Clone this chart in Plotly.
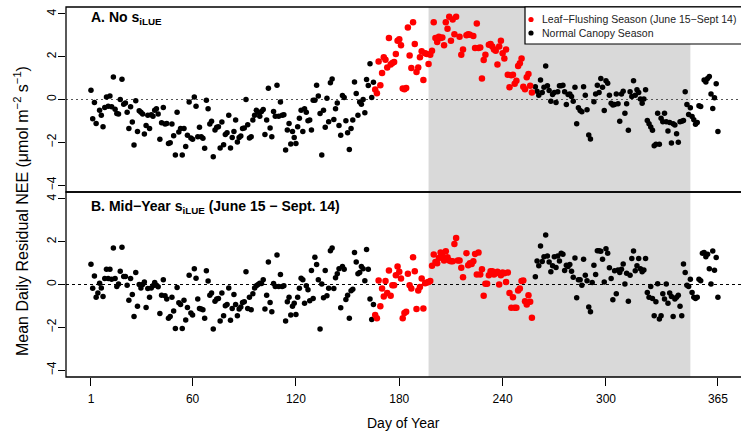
import plotly.graph_objects as go

# ---------------- data ----------------
# Panel A (No s_iLUE): normal canopy season, days 1-165
a_norm1_days = list(range(1, 5)) + list(range(6, 166))
a_norm1_vals = [0.43, -0.90, -0.14, -1.12, -0.50, -0.74, -1.27, -0.37, 0.12, -0.31,
                0.16, -0.34, 1.05, -0.45, -0.65, -0.68, 0.00, 0.95, -0.22, -0.16,
                -0.59, -1.36, -0.34, -1.05, -2.12, -0.06, -1.50, -0.53, -0.59, -0.68,
                -1.61, -1.21, -0.74, -1.36, -0.71, -0.78, -0.50, -0.43, -0.68, -1.86,
                -1.09, -0.37, -1.15, -1.12, -2.05, -2.02, -1.15, -1.69, -2.59, -0.59,
                -1.52, -1.36, -2.59, -1.36, -2.20, -1.67, -0.12, -1.80, -1.86, 0.12,
                -0.31, -1.74, -1.30, -1.74, -1.81, -2.28, -0.03, -0.43, -1.15, -1.02,
                -2.67, -1.43, -1.30, -1.27, -2.26, -1.05, -2.11, -1.64, -1.55, -0.74,
                -2.26, -1.77, -1.49, -0.96, -1.98, -1.77, -1.71, -1.36, -1.33, 0.00,
                -1.18, -1.80, -1.74, -0.96, -0.73, -0.50, -0.59, -0.78, -0.56, -0.47,
                -1.64, -0.96, 0.53, -1.33, -1.74, -0.56, -0.78, 0.67, -0.78, -0.12,
                -0.73, -0.71, -2.36, -1.43, -1.12, -2.08, -1.49, -1.77, -2.05, -1.27,
                -0.88, -0.50, -1.50, -0.43, -0.59, -0.99, -0.96, -1.43, -0.03, -0.03,
                0.67, 0.16, -0.65, -2.59, -0.50, -1.30, 0.06, -1.04, 0.78, 0.96,
                -0.93, -0.43, -0.16, -1.21, -1.67, 0.19, 0.09, -0.99, -1.55, -2.33,
                -1.35, -0.96, 0.82, 0.28, -0.74, -0.12, -0.22, 0.00, -0.62, 0.93,
                0.65, 1.67, 0.09, 0.81]

# Panel A: leaf-flushing season, days 166-257
a_leaf_days = list(range(166, 214)) + [215, 216, 217] + list(range(219, 222)) + \
              list(range(223, 231)) + list(range(232, 258))
a_leaf_vals = [0.47, 0.29, 1.78, 0.67, 1.24, 1.97, 1.86, 1.50, 2.87, 1.63,
               1.71, 1.75, 2.12, 2.74, 2.81, 2.53, 0.51, 0.48, 0.54, 3.36,
               2.06, 1.47, 3.61, 2.59, 1.29, 1.50, 1.97, 2.25, 0.91, 2.16,
               2.12, 1.66, 2.09, 2.28, 3.61, 2.87, 2.68, 2.93, 2.87, 2.90,
               2.53, 3.61, 3.30, 3.86, 2.74, 3.74, 3.05, 3.86,
               2.93, 2.09, 2.34,
               3.00, 3.05, 3.02,
               2.96, 2.40, 3.55, 2.40, 2.43, 0.98, 1.84, 2.09,
               2.56, 2.59, 2.47, 2.34, 2.28, 1.63, 2.47, 2.74, 2.16, 1.91,
               2.34, 1.16, 0.57, 1.13, 1.16, 0.73, 0.88, 1.57, 1.69, 1.91,
               0.60, 0.48, 1.04, 1.19, 0.64, 0.33]

# Panel A: normal canopy season, days 258-365
a_norm2_days = list(range(259, 292)) + list(range(293, 356)) + list(range(357, 366))
a_norm2_vals = [0.60, 0.39, 0.20, 0.91, 0.33, 0.57, 1.57, 0.64, 0.42, -0.08,
                0.23, 0.33, -0.14, 0.36, 0.64, 0.64, 0.67, 0.36, -0.23, 0.23,
                0.26, 0.14, -0.08, 0.57, -1.13, -0.39, -0.51, -0.57, 0.60, 0.20,
                -0.48, -1.66, -1.84,
                -0.11, 0.26, 0.67, 0.33, 0.98, 0.57, -0.51, 0.88, 0.76, 0.20,
                -0.17, -0.26, -0.23, 0.26, -0.20, -1.01, 0.26, 0.39, -0.64, -0.20,
                -1.44, 0.36, 0.14, 0.88, 0.20, 0.45, 0.33, 0.02, -0.17, 0.02,
                0.45, -0.98, -1.13, -1.29, -1.44, -2.16, -2.09, -0.64, -2.09, -0.88,
                -1.04, -0.64, -1.04, -1.47, -1.07, -2.03, -1.13, -1.19, -1.60, -2.00,
                -1.04, -1.01, -0.98, 0.36, -0.23, -0.70, -0.39, -0.79, -0.95, -1.16,
                -1.07, -0.29, -0.33,
                0.91, 0.82, 0.98, 1.07, 0.26, -0.42, 0.08, 0.73, -1.50]

# Panel B (Mid-Year s_iLUE): normal canopy season, days 1-165
b_norm1_days = list(range(1, 166))
b_norm1_vals = [0.95, -0.17, 0.40, -0.60, -0.40, 0.06, -0.16, -0.56, 0.28, 0.71,
                0.28, 0.71, 0.25, 1.71, 0.28, -0.09, 0.02, 0.62, 1.74, 0.37,
                0.37, -0.03, -0.73, 0.28, -0.47, -1.50, 0.56, -1.01, 0.00, -0.16,
                0.00, 0.12, -1.07, -0.19, -0.60, -0.16, -0.06, 0.09, -0.03, -0.11,
                -1.36, -0.50, 0.22, -0.53, -0.68, -1.58, -1.50, -0.60, -1.24, -2.05,
                -0.14, -0.85, -0.93, -2.05, -0.74, -1.66, -1.07, 0.43, -1.33, -1.43,
                0.74, 0.29, -0.68, -1.12, -1.15, -1.18, -1.58, 0.64, 0.16, -0.50,
                -0.40, -2.08, -0.78, -0.68, -0.65, -1.71, -0.40, -1.46, -0.99, -0.93,
                -0.16, -1.67, -1.12, -0.47, -0.93, -1.46, -1.15, -1.05, -0.84, -0.81,
                0.59, -1.12, -0.59, -1.18, -0.43, -0.16, -0.06, 0.00, 0.06, 0.05,
                0.22, -1.15, -0.50, 1.05, -0.84, -1.27, 0.05, -0.09, 1.38, -0.09,
                0.47, -0.09, -0.06, -1.71, -0.81, -0.59, -1.43, -1.02, -0.87, -1.40,
                -0.60, -0.17, 0.29, 0.22, -0.88, -0.06, -0.25, -0.76, 0.65, -0.65,
                1.27, 0.93, 0.22, -2.08, 0.02, -0.62, 0.65, -0.53, -0.17, 1.58,
                1.71, -0.19, 0.31, 0.50, 0.74, -1.09, 0.84, 0.71, -0.70, -0.50,
                -1.58, -0.29, -0.22, 1.49, 1.05, 0.50, 0.56, 0.84, 0.74, 0.17,
                1.63, 0.71, -0.68, -1.64, -0.93]

# Panel B: leaf-flushing season, days 166-257
b_leaf_days = list(range(166, 218)) + list(range(219, 258))
b_leaf_vals = [-1.43, -1.58, 0.19, -1.02, -0.19, -0.56, 0.16, -0.40, 0.65, -0.53,
               -0.03, -0.03, 0.43, 0.84, 0.59, 0.28, -1.58, -1.33, -1.27, 0.50,
               -0.03, -0.19, 1.27, 0.62, -1.15, -0.28, -0.12, 0.28, -1.12, 0.06,
               0.09, 0.12, 0.16, 0.87, 1.40, 1.05, 0.99, 1.24, 1.49, 1.36,
               1.12, 1.55, 1.27, 1.12, 1.09, 1.09, 1.89, 2.17, 1.12, 1.12,
               0.78, 0.34,
               1.46, 0.90, 0.99, 0.96, 1.09, 1.43, 0.47, 1.49, 0.47, 0.71,
               -0.53, 0.03, 0.03, 0.43, 0.62, 0.62, 0.47, 0.53, 0.59, 0.00,
               0.43, 0.56, 0.53, 0.12, 0.56, -0.40, -1.09, -0.59, -1.09, -1.09,
               -0.28, -0.19, 0.16, 0.19, -0.78, -0.93, -0.50, -0.81, -1.55]

# Panel B: normal canopy season, days 258-365
b_norm2_days = list(range(259, 366))
b_norm2_vals = [0.36, 1.10, 0.87, 1.80, 1.07, 1.30, 2.31, 1.33, 1.05, 0.59,
                0.87, 1.30, 0.79, 1.33, 1.10, 1.46, 1.41, 0.65, 0.90, 0.84,
                0.93, 0.62, 0.34, 1.24, -0.62, 0.22, 0.22, -0.03, 1.18, 0.43,
                0.17, -1.05, -1.27, 0.09, 0.90, 0.47, 1.58, 1.58, 1.55, 1.18,
                0.12, 1.67, 1.46, 0.78, 0.28, -0.71, 0.64, -0.43, 0.68, 0.56,
                0.71, 0.96, 0.02, 0.53, -0.78, 0.43, 1.21, 1.57, 0.64, 0.87,
                1.21, 0.74, 0.59, 0.68, 1.21, -0.37, -0.60, -0.09, -0.65, -1.46,
                -0.81, 0.03, -1.61, -1.46, -0.43, -0.68, 0.02, -0.87, -0.40, -0.56,
                -1.49, -0.68, -0.60, -0.50, -1.02, -1.46, 0.96, 0.56, -0.03, -0.09,
                0.25, -0.37, -0.59, -0.65, -0.60, 0.25, 0.17, 1.46, 1.49, 1.30,
                1.41, 0.74, 0.02, 1.57, 0.67, 1.26, -0.60]

x_ticks = [1, 60, 120, 180, 240, 300, 365]
y_ticks = [-4, -2, 0, 2, 4]
shade_start, shade_end = 197, 349
legend_labels = ["Leaf\u2212Flushing Season (June 15\u2212Sept 14)", "Normal Canopy Season"]

# ---------------- figure ----------------
FONT = "Liberation Sans, Arial, Helvetica, sans-serif"
RED = "#ff0000"
BLACK = "#000000"
legend_colors = [RED, BLACK]

fig = go.Figure()

def add(days, vals, color, size, yaxis, name):
    fig.add_trace(go.Scatter(
        x=days, y=vals, mode="markers", xaxis="x", yaxis=yaxis,
        marker=dict(color=color, size=size, line=dict(width=0)),
        name=name, showlegend=False))

add(a_norm1_days, a_norm1_vals, BLACK, 5.5, "y", legend_labels[1])
add(a_norm2_days, a_norm2_vals, BLACK, 5.5, "y", legend_labels[1])
add(a_leaf_days, a_leaf_vals, RED, 6.5, "y", legend_labels[0])
add(b_norm1_days, b_norm1_vals, BLACK, 5.5, "y2", legend_labels[1])
add(b_norm2_days, b_norm2_vals, BLACK, 5.5, "y2", legend_labels[1])
add(b_leaf_days, b_leaf_vals, RED, 6.5, "y2", legend_labels[0])

yax = dict(range=[-4.32, 4.32], tickvals=y_ticks, ticks="outside", ticklen=7,
           tickwidth=1, tickcolor="black", tickangle=-90, showgrid=False,
           zeroline=False, showline=False, ticklabelstandoff=-3,
           tickfont=dict(family=FONT, size=12, color="black"))

fig.update_layout(
    width=741, height=434,
    margin=dict(l=66, r=0, t=7, b=57),
    paper_bgcolor="white", plot_bgcolor="white",
    xaxis=dict(range=[-13.5, 378.4], tickvals=x_ticks, ticks="outside", ticklen=8,
               tickwidth=1, tickcolor="black", showgrid=False, zeroline=False,
               showline=False, anchor="y2", ticklabelstandoff=3,
               tickfont=dict(family=FONT, size=12, color="black")),
    yaxis=dict(domain=[0.5, 1], anchor="x", **yax),
    yaxis2=dict(domain=[0, 0.5], anchor="x", **yax),
    showlegend=False,
)

# plot area in pixels: x 66..741, y 7..377
def px_x(p):
    return (p - 66) / 675.0

def px_y(p):
    return (377 - p) / 370.0

shapes = [
    dict(type="rect", xref="x", yref="paper", x0=shade_start, x1=shade_end, y0=0, y1=1,
         fillcolor="#d9d9d9", line=dict(width=0), layer="below"),
    dict(type="line", xref="paper", yref="y", x0=0, x1=1, y0=0, y1=0,
         line=dict(color="#555555", width=1.2, dash="2px,3px"), layer="below"),
    dict(type="line", xref="paper", yref="y2", x0=0, x1=1, y0=0, y1=0,
         line=dict(color="#000000", width=1, dash="3px,3px"), layer="below"),
    dict(type="rect", xref="paper", yref="paper", x0=0, x1=1.01, y0=0.5, y1=1,
         line=dict(color="black", width=1.3), fillcolor="rgba(0,0,0,0)", layer="above"),
    dict(type="rect", xref="paper", yref="paper", x0=0, x1=1.01, y0=0, y1=0.5,
         line=dict(color="black", width=1.3), fillcolor="rgba(0,0,0,0)", layer="above"),
    # legend box
    dict(type="rect", xref="paper", yref="paper", x0=px_x(525), x1=1.01,
         y0=px_y(44), y1=1, fillcolor="white", line=dict(color="black", width=1.2),
         layer="above"),
]
annotations = []
for i, (lab, col) in enumerate(zip(legend_labels, legend_colors)):
    yc = px_y(19.5 + i * 13.5)
    shapes.append(dict(type="circle", xref="paper", yref="paper",
                       xsizemode="pixel", ysizemode="pixel",
                       xanchor=px_x(531), yanchor=yc, x0=-2.6, x1=2.6, y0=-2.6, y1=2.6,
                       fillcolor=col, line=dict(width=0), layer="above"))
    annotations.append(dict(text=lab, xref="paper", yref="paper", x=px_x(540), y=yc,
                            xanchor="left", yanchor="middle", showarrow=False,
                            font=dict(family=FONT, size=10.5, color="#222")))
fig.update_layout(shapes=shapes)

annotations += [
    dict(text="<b>A. No s<sub>iLUE</sub></b>", xref="paper", yref="paper",
         x=px_x(89), y=px_y(17.5), xanchor="left", yanchor="middle", showarrow=False,
         font=dict(family=FONT, size=14, color="black")),
    dict(text="<b>B. Mid\u2212Year s<sub>iLUE</sub> (June 15 \u2212 Sept. 14)</b>",
         xref="paper", yref="paper", x=px_x(89), y=px_y(207), xanchor="left",
         yanchor="middle", showarrow=False,
         font=dict(family=FONT, size=14, color="black")),
    dict(text="Mean Daily Residual NEE (\u03bcmol m<sup>\u22122</sup> s<sup>\u22121</sup>)",
         xref="paper", yref="paper", x=px_x(21), y=px_y(211), xanchor="center",
         yanchor="middle", textangle=-90, showarrow=False,
         font=dict(family=FONT, size=16, color="black")),
    dict(text="Day of Year", xref="paper", yref="paper", x=0.5, y=px_y(423),
         xanchor="center", yanchor="middle", showarrow=False,
         font=dict(family=FONT, size=14, color="black")),
]
fig.update_layout(annotations=annotations)

fig.write_html("out.html")
